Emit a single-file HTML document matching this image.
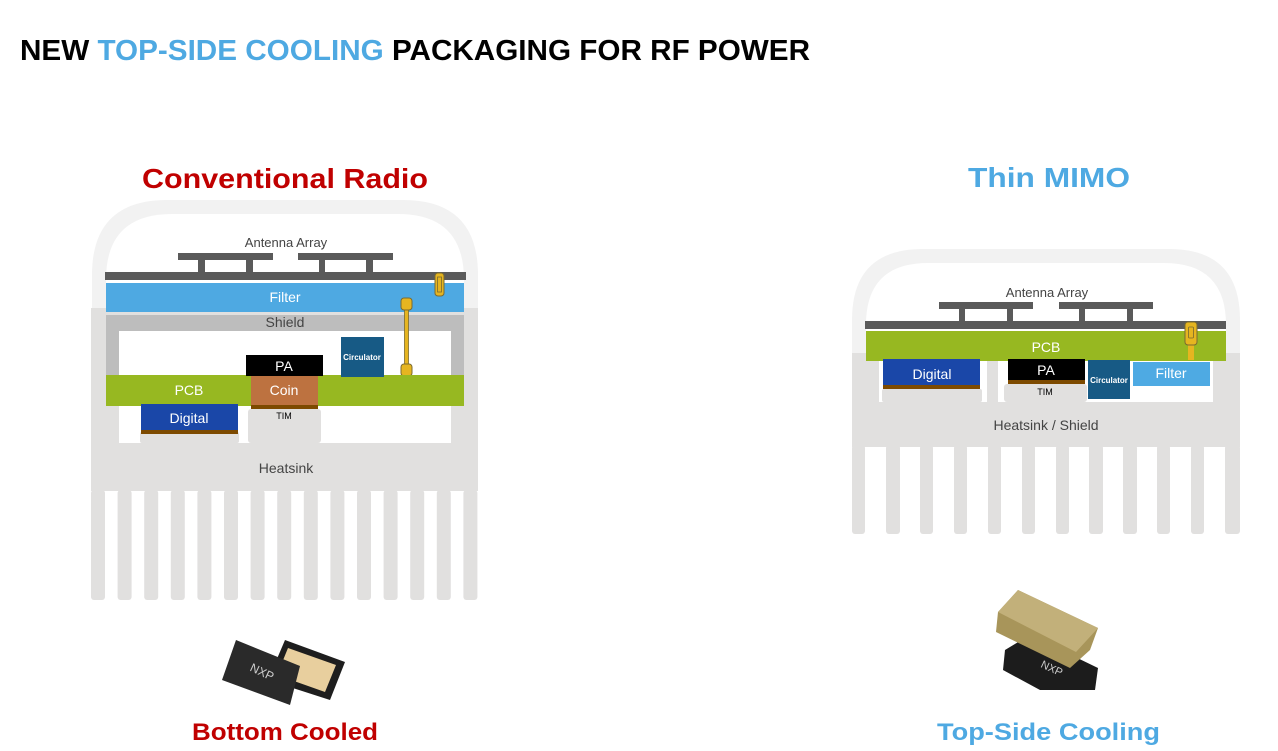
<!DOCTYPE html>
<html><head><meta charset="utf-8"><style>
html,body{margin:0;padding:0;background:#fff;}
svg{display:block;font-family:"Liberation Sans",sans-serif;}
</style></head><body>
<svg width="1278" height="751" viewBox="0 0 1278 751" xmlns="http://www.w3.org/2000/svg">
<rect width="1278" height="751" fill="#fff"/>
<text x="20" y="60" font-size="29" font-weight="bold" textLength="790" lengthAdjust="spacingAndGlyphs" fill="#000">NEW <tspan fill="#4ea9e2">TOP-SIDE COOLING</tspan> PACKAGING FOR RF POWER</text>

<!-- LEFT -->
<text x="142" y="188" font-size="28" font-weight="bold" fill="#c00000" textLength="286" lengthAdjust="spacingAndGlyphs">Conventional Radio</text>
<path d="M92,320 V275 Q92,200 167,200 H403 Q478,200 478,275 V320 Z" fill="#f2f2f2"/>
<path d="M106,320 V280 Q106,214 172,214 H398 Q464,214 464,280 V320 Z" fill="#fff"/>
<rect x="91" y="308" width="387" height="183" fill="#e1e0df"/>
<g fill="#e1e0df">
<rect x="91" y="490" width="14" height="110" rx="3"/><rect x="117.6" y="490" width="14" height="110" rx="3"/><rect x="144.2" y="490" width="14" height="110" rx="3"/><rect x="170.8" y="490" width="14" height="110" rx="3"/><rect x="197.4" y="490" width="14" height="110" rx="3"/><rect x="224" y="490" width="14" height="110" rx="3"/><rect x="250.6" y="490" width="14" height="110" rx="3"/><rect x="277.2" y="490" width="14" height="110" rx="3"/><rect x="303.8" y="490" width="14" height="110" rx="3"/><rect x="330.4" y="490" width="14" height="110" rx="3"/><rect x="357" y="490" width="14" height="110" rx="3"/><rect x="383.6" y="490" width="14" height="110" rx="3"/><rect x="410.2" y="490" width="14" height="110" rx="3"/><rect x="436.8" y="490" width="14" height="110" rx="3"/><rect x="463.4" y="490" width="14" height="110" rx="3"/>
</g>
<rect x="119" y="331" width="332" height="112" fill="#fff"/>
<rect x="140" y="432" width="99" height="11" fill="#e1e0df" rx="2"/>
<rect x="248" y="409" width="73" height="34" fill="#e1e0df" rx="3"/>
<rect x="106" y="315" width="358" height="16" fill="#bdbdbd"/>
<rect x="106" y="315" width="13" height="62" fill="#bdbdbd"/>
<rect x="451" y="315" width="13" height="62" fill="#bdbdbd"/>
<rect x="106" y="283" width="358" height="29" fill="#4ea9e2"/>
<g fill="#5a5a5a">
<rect x="105" y="272" width="361" height="8"/>
<rect x="178" y="253" width="95" height="7"/><rect x="298" y="253" width="95" height="7"/>
<rect x="198" y="260" width="7" height="12"/><rect x="246" y="260" width="7" height="12"/><rect x="319" y="260" width="6" height="12"/><rect x="366" y="260" width="7" height="12"/>
</g>
<rect x="435" y="273" width="9" height="23" rx="3" fill="#e6b520" stroke="#7a6a30"/>
<rect x="437.5" y="277" width="4" height="15" fill="none" stroke="#7a6a30" stroke-width="0.8"/>
<rect x="404.5" y="305" width="4" height="64" fill="#e6b520" stroke="#7a6a30" stroke-width="0.8"/>
<rect x="401" y="298" width="11" height="12" rx="3" fill="#e6b520" stroke="#7a6a30"/>
<rect x="401" y="364" width="11" height="12" rx="3" fill="#e6b520" stroke="#7a6a30"/>
<rect x="106" y="375" width="358" height="31" fill="#97b821"/>
<rect x="246" y="355" width="77" height="21" fill="#000"/>
<rect x="251" y="376" width="67" height="29" fill="#bd7240"/>
<rect x="251" y="405" width="67" height="4" fill="#7d4a00"/>
<rect x="341" y="337" width="43" height="40" fill="#175a85"/>
<rect x="141" y="404" width="97" height="26" fill="#1a47a8"/>
<rect x="141" y="430" width="97" height="4" fill="#7d4a00"/>
<g font-size="13" fill="#444" text-anchor="middle">
<text x="286" y="247">Antenna Array</text>
<text x="285" y="327" font-size="14">Shield</text>
<text x="286" y="473" font-size="14">Heatsink</text>
</g>
<g fill="#fff" text-anchor="middle" font-size="14">
<text x="285" y="302">Filter</text>
<text x="189" y="395">PCB</text>
<text x="284" y="395">Coin</text>
<text x="284" y="371">PA</text>
<text x="189" y="423">Digital</text>
<text x="362" y="360" font-size="8" font-weight="bold">Circulator</text>
</g>
<text x="284" y="419" font-size="9" text-anchor="middle" fill="#000">TIM</text>

<!-- RIGHT -->
<text x="968" y="187" font-size="28" font-weight="bold" fill="#4ea9e2" textLength="162" lengthAdjust="spacingAndGlyphs">Thin MIMO</text>
<path d="M852,360 V320 Q852,249 923,249 H1169 Q1240,249 1240,320 V360 Z" fill="#f2f2f2"/>
<path d="M866,360 V325 Q866,263 928,263 H1164 Q1226,263 1226,325 V360 Z" fill="#fff"/>
<rect x="852" y="353" width="388" height="94" fill="#e1e0df"/>
<g fill="#e1e0df">
<rect x="852" y="445" width="13" height="89" rx="3"/><rect x="886" y="445" width="14" height="89" rx="3"/><rect x="920" y="445" width="13" height="89" rx="3"/><rect x="954" y="445" width="13" height="89" rx="3"/><rect x="988" y="445" width="13" height="89" rx="3"/><rect x="1022" y="445" width="13" height="89" rx="3"/><rect x="1056" y="445" width="13" height="89" rx="3"/><rect x="1089" y="445" width="14" height="89" rx="3"/><rect x="1123" y="445" width="14" height="89" rx="3"/><rect x="1157" y="445" width="13" height="89" rx="3"/><rect x="1191" y="445" width="13" height="89" rx="3"/><rect x="1225" y="445" width="15" height="89" rx="3"/>
</g>
<rect x="879" y="361" width="108" height="41" fill="#fff"/>
<rect x="998" y="361" width="215" height="41" fill="#fff"/>
<rect x="882" y="389" width="100" height="13" fill="#e1e0df" rx="2"/>
<rect x="1004" y="384" width="83" height="18" fill="#e1e0df" rx="3"/>
<g fill="#5a5a5a">
<rect x="865" y="321" width="361" height="8"/>
<rect x="939" y="302" width="94" height="7"/><rect x="1059" y="302" width="94" height="7"/>
<rect x="959" y="309" width="6" height="12"/><rect x="1007" y="309" width="6" height="12"/><rect x="1079" y="309" width="6" height="12"/><rect x="1127" y="309" width="6" height="12"/>
</g>
<rect x="866" y="331" width="360" height="30" fill="#97b821"/>
<rect x="1188" y="340" width="6" height="20" fill="#e6b520"/>
<rect x="1185" y="322" width="12" height="23" rx="3" fill="#e6b520" stroke="#7a6a30"/>
<rect x="1188.5" y="327" width="5" height="11" rx="1" fill="none" stroke="#7a6a30" stroke-width="0.8"/>
<rect x="883" y="359" width="97" height="26" fill="#1a47a8"/>
<rect x="883" y="385" width="97" height="4" fill="#7d4a00"/>
<rect x="1008" y="359" width="77" height="21" fill="#000"/>
<rect x="1008" y="380" width="77" height="4" fill="#7d4a00"/>
<rect x="1088" y="360" width="42" height="39" fill="#175a85"/>
<rect x="1133" y="362" width="77" height="24" fill="#4eaae3"/>
<g font-size="13" fill="#444" text-anchor="middle">
<text x="1047" y="297">Antenna Array</text>
<text x="1046" y="430" font-size="14">Heatsink / Shield</text>
</g>
<g fill="#fff" text-anchor="middle" font-size="14">
<text x="1046" y="352">PCB</text>
<text x="932" y="379">Digital</text>
<text x="1046" y="375">PA</text>
<text x="1171" y="378">Filter</text>
<text x="1109" y="383" font-size="8" font-weight="bold">Circulator</text>
</g>
<text x="1045" y="395" font-size="9" text-anchor="middle" fill="#000">TIM</text>

<!-- chips left -->
<polygon points="285,640 345,662 330,700 268,680" fill="#1e1e1e"/>
<polygon points="288,648 336,665 325,692 277,675" fill="#e8cf9e"/>
<polygon points="236,640 300,666 290,705 222,680" fill="#2a2a2a"/>
<text x="262" y="676" font-size="12" fill="#ccc" transform="rotate(25 262 672)" text-anchor="middle">NXP</text>
<text x="192" y="740" font-size="24" font-weight="bold" fill="#c00000" textLength="186" lengthAdjust="spacingAndGlyphs">Bottom Cooled</text>

<!-- chips right -->
<polygon points="1005,650 1030,635 1098,668 1095,690 1040,690 1003,670" fill="#1c1c1c"/>
<text x="1052" y="672" font-size="11" fill="#ccc" text-anchor="middle" transform="rotate(25 1052 668)">NXP</text>
<polygon points="998,612 1018,590 1098,628 1090,650 1070,668 996,632" fill="#a8955a"/>
<polygon points="998,612 1018,590 1098,628 1076,652" fill="#c2b07a"/>
<text x="937" y="740" font-size="24" font-weight="bold" fill="#4ea9e2" textLength="223" lengthAdjust="spacingAndGlyphs">Top-Side Cooling</text>
</svg>
</body></html>
